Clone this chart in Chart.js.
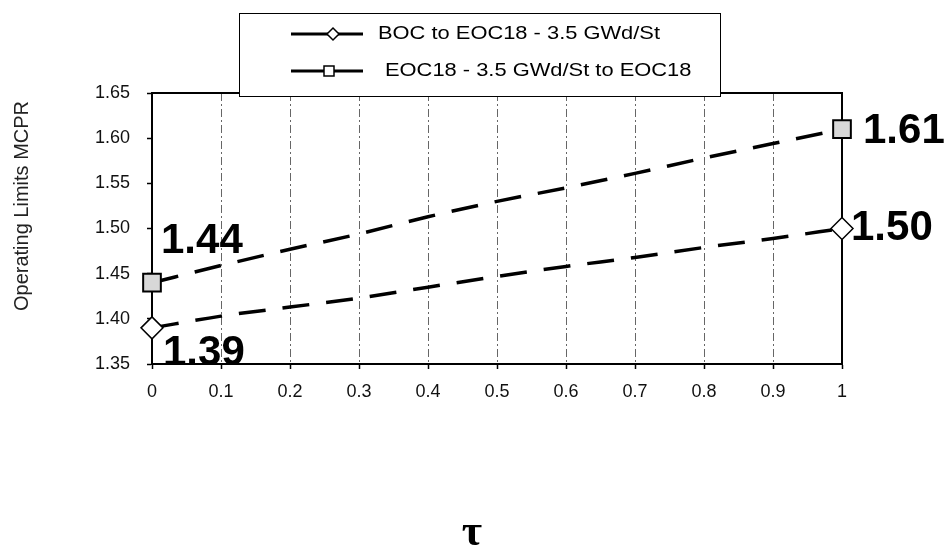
<!DOCTYPE html>
<html>
<head>
<meta charset="utf-8">
<title>Operating Limits MCPR</title>
<script src="https://cdn.jsdelivr.net/npm/chart.js@4.4.1/dist/chart.umd.min.js"></script>
<style>
  html, body { margin: 0; padding: 0; background: #fff; }
  #wrap { position: relative; width: 952px; height: 546px; }
</style>
</head>
<body>
<div id="wrap"><canvas id="mcprChart"></canvas></div>
<script>
// exposure fraction tau on the x axis
const tau = [0, 0.1, 0.2, 0.3, 0.4, 0.5, 0.6, 0.7, 0.8, 0.9, 1];

// operating limit MCPR for each exposure window
const bocToEoc = [1.39, 1.403, 1.413, 1.423, 1.435, 1.447, 1.458, 1.468, 1.479, 1.489, 1.50];
const eocToEoc = [1.44, 1.459, 1.477, 1.494, 1.513, 1.530, 1.545, 1.561, 1.578, 1.594, 1.61];

const seriesNames = ['BOC to EOC18 - 3.5 GWd/St', 'EOC18 - 3.5 GWd/St to EOC18'];

const xTicks = [0, 0.1, 0.2, 0.3, 0.4, 0.5, 0.6, 0.7, 0.8, 0.9, 1];
const yTicks = [1.35, 1.40, 1.45, 1.50, 1.55, 1.60, 1.65];

const yTitle = 'Operating Limits MCPR';
const xTitle = '\u03C4';

const SANS = '"Liberation Sans", Arial, sans-serif';

const isEnd = (ctx) => ctx.dataIndex === 0 || ctx.dataIndex === ctx.dataset.data.length - 1;

function drawDiamond(ctx, x, y, r) {
  ctx.beginPath();
  ctx.moveTo(x - r, y);
  ctx.lineTo(x, y - r);
  ctx.lineTo(x + r, y);
  ctx.lineTo(x, y + r);
  ctx.closePath();
  ctx.fill();
  ctx.stroke();
}

function drawSquare(ctx, x, y, half) {
  ctx.beginPath();
  ctx.rect(x - half, y - half, half * 2, half * 2);
  ctx.fill();
  ctx.stroke();
}

// frame around the plot area, drawn under the markers
const frame = {
  id: 'frame',
  beforeDatasetsDraw(chart) {
    const {ctx, chartArea: a} = chart;
    ctx.save();
    ctx.strokeStyle = '#000';
    ctx.lineWidth = 2;
    ctx.strokeRect(a.left, a.top, a.right - a.left, a.bottom - a.top);
    ctx.restore();
  }
};

// big end-point value labels
const endLabels = [
  {ds: 0, idx: 0, dx: 11, dy: 37},
  {ds: 0, idx: 10, dx: 9, dy: 11},
  {ds: 1, idx: 0, dx: 9, dy: -30},
  {ds: 1, idx: 10, dx: 21, dy: 14}
];

const valueLabels = {
  id: 'valueLabels',
  afterDraw(chart) {
    const {ctx} = chart;
    ctx.save();
    ctx.font = 'bold 42px ' + SANS;
    ctx.fillStyle = '#000';
    ctx.textAlign = 'left';
    ctx.textBaseline = 'alphabetic';
    endLabels.forEach(l => {
      const pt = chart.getDatasetMeta(l.ds).data[l.idx];
      const v = chart.data.datasets[l.ds].data[l.idx].y;
      ctx.fillText(v.toFixed(2), pt.x + l.dx, pt.y + l.dy);
    });
    ctx.restore();
  }
};

// boxed legend and axis titles
const legendBox = {
  id: 'legendBox',
  afterDraw(chart) {
    const {ctx} = chart;
    ctx.save();
    ctx.fillStyle = '#fff';
    ctx.strokeStyle = '#000';
    ctx.lineWidth = 1;
    ctx.fillRect(239, 13, 481, 83);
    ctx.strokeRect(239.5, 13.5, 481, 83);

    const rows = [34, 71];
    chart.data.datasets.forEach((ds, i) => {
      const y = rows[i];
      ctx.strokeStyle = '#000';
      ctx.lineWidth = 3;
      ctx.beginPath();
      ctx.moveTo(291, y);
      ctx.lineTo(363, y);
      ctx.stroke();
      ctx.lineWidth = 1.5;
      ctx.fillStyle = '#fff';
      if (ds.pointStyle === 'rectRot') drawDiamond(ctx, 333, y, 6);
      else drawSquare(ctx, 329, y, 5);
      ctx.save();
      ctx.translate(i === 0 ? 378 : 385, y);
      ctx.scale(1.25, 1);
      ctx.fillStyle = '#000';
      ctx.font = '17.5px ' + SANS;
      ctx.textBaseline = 'middle';
      ctx.textAlign = 'left';
      ctx.fillText(ds.label, 0, 0);
      ctx.restore();
    });

    // y axis title
    ctx.save();
    ctx.translate(22, 206);
    ctx.rotate(-Math.PI / 2);
    ctx.font = '20px ' + SANS;
    ctx.fillStyle = '#222';
    ctx.textAlign = 'center';
    ctx.textBaseline = 'middle';
    ctx.fillText(yTitle, 0, 0);
    ctx.restore();

    // x axis title
    ctx.font = 'bold 44px "Liberation Serif", "DejaVu Serif", serif';
    ctx.fillStyle = '#000';
    ctx.textAlign = 'center';
    ctx.textBaseline = 'alphabetic';
    ctx.fillText(xTitle, 472, 545);
    ctx.restore();
  }
};

function initChart() {
  const canvas = document.getElementById('mcprChart');
  new Chart(canvas, {
    type: 'line',
    data: {
      datasets: [
        {
          label: seriesNames[0],
          data: tau.map((x, i) => ({x, y: bocToEoc[i]})),
          borderColor: '#000',
          borderWidth: 3.5,
          borderDash: [27, 17],
          cubicInterpolationMode: 'monotone',
          pointStyle: 'rectRot',
          pointRadius: ctx => isEnd(ctx) ? 11 : 0,
          pointHoverRadius: ctx => isEnd(ctx) ? 11 : 0,
          pointBackgroundColor: '#fff',
          pointBorderColor: '#000',
          pointBorderWidth: 1.5,
          clip: false
        },
        {
          label: seriesNames[1],
          data: tau.map((x, i) => ({x, y: eocToEoc[i]})),
          borderColor: '#000',
          borderWidth: 3.5,
          borderDash: [27, 17],
          cubicInterpolationMode: 'monotone',
          pointStyle: 'rect',
          pointRadius: ctx => isEnd(ctx) ? 12.5 : 0,
          pointHoverRadius: ctx => isEnd(ctx) ? 12.5 : 0,
          pointBackgroundColor: '#d8d8d8',
          pointBorderColor: '#000',
          pointBorderWidth: 2,
          clip: false
        }
      ]
    },
    options: {
      responsive: true,
      maintainAspectRatio: false,
      animation: false,
      events: [],
      layout: {
        padding: {top: 93, right: 110, left: 0, bottom: 0}
      },
      plugins: {
        legend: {display: false},
        tooltip: {enabled: false}
      },
      scales: {
        x: {
          type: 'linear',
          min: 0,
          max: 1,
          afterBuildTicks: scale => { scale.ticks = xTicks.map(v => ({value: v})); },
          afterFit: scale => { scale.height = 182; },
          ticks: {
            font: {family: SANS, size: 18},
            color: '#111',
            padding: 12,
            maxRotation: 0,
            callback: v => String(v)
          },
          grid: {
            color: '#666',
            lineWidth: 1,
            drawTicks: true,
            tickLength: 5,
            tickColor: '#000',
            tickWidth: 1.5
          },
          border: {display: true, color: '#000', width: 2, dash: [8, 3, 2, 3]}
        },
        y: {
          type: 'linear',
          min: 1.35,
          max: 1.65,
          afterBuildTicks: scale => { scale.ticks = yTicks.map(v => ({value: v})); },
          afterFit: scale => { scale.width = 152; },
          ticks: {
            font: {family: SANS, size: 18},
            color: '#111',
            padding: 17,
            callback: v => v.toFixed(2)
          },
          grid: {
            drawOnChartArea: false,
            drawTicks: true,
            tickLength: 5,
            tickColor: '#000',
            tickWidth: 1.5
          },
          border: {display: true, color: '#000', width: 2}
        }
      }
    },
    plugins: [frame, valueLabels, legendBox]
  });
}

document.addEventListener('DOMContentLoaded', initChart);
</script>
</body>
</html>
